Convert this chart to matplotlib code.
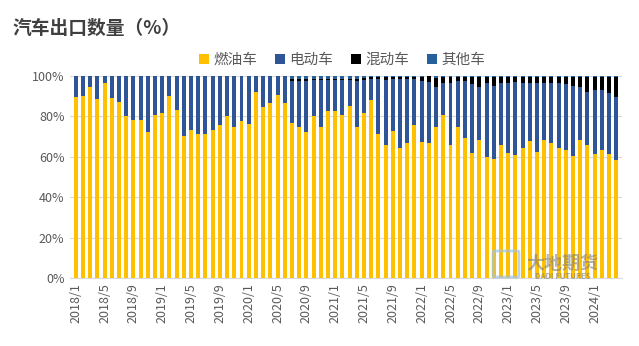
import matplotlib
matplotlib.use("Agg")
import matplotlib.pyplot as plt
from matplotlib.patches import FancyBboxPatch
import numpy as np

plt.rcParams['font.family'] = ['Noto Sans CJK SC', 'DejaVu Sans']

# monthly categories 2018/1 .. 2024/4
months = [f"{y}/{m}" for y in range(2018, 2025) for m in range(1, 13)][:76]

fuel = [89.4, 89.9, 94.4, 88.4, 96.7, 88.9, 87.1, 80.1, 78.3, 78.3, 72.4, 80.6,
        81.5, 90.2, 83.4, 70.5, 73.3, 71.5, 71.5, 73.3, 75.7, 80.1, 74.7, 77.5,
        76.0, 92.2, 84.8, 86.6, 90.7, 86.6, 76.8, 74.7, 72.4, 80.3, 75.0, 82.9,
        82.9, 80.8, 85.3, 74.7, 81.6, 88.1, 71.5, 65.7, 73.0, 64.6, 66.9, 75.7,
        67.4, 66.9, 74.7, 80.6, 65.6, 74.7, 69.5, 61.8, 68.2, 59.9, 59.1, 65.6,
        61.9, 60.9, 64.6, 67.9, 62.6, 68.2, 66.6, 64.6, 63.2, 60.6, 68.2, 65.6,
        61.6, 63.2, 61.6, 58.6]
electric = [10.6, 10.1, 5.6, 11.6, 3.3, 11.1, 12.9, 19.9, 21.7, 21.7, 27.6, 19.4,
            18.5, 9.8, 16.6, 29.5, 26.7, 28.5, 28.5, 26.7, 24.3, 19.9, 25.3, 22.5,
            24.0, 7.8, 15.2, 13.4, 9.3, 13.4, 20.8, 22.9, 25.1, 17.5, 23.1, 15.2,
            15.2, 17.2, 12.7, 23.0, 16.4, 10.3, 26.9, 32.5, 25.3, 34.1, 31.8, 22.7,
            30.0, 30.0, 19.7, 16.1, 30.8, 22.7, 28.2, 34.2, 26.2, 36.5, 35.9, 31.1,
            34.8, 36.1, 32.1, 28.8, 33.8, 28.2, 29.8, 31.8, 32.8, 34.4, 26.2, 26.5,
            31.4, 29.8, 29.8, 31.1]
hybrid = [0] * 30 + [0.7, 0.7, 0.8, 0.7, 0.4, 0.4, 0.4, 0.5, 0.5, 0.8, 0.8, 1.0,
                     1.0, 1.5, 1.4, 1.0, 1.0, 1.3, 2.3, 3.1, 4.8, 3.0, 3.3, 2.3,
                     2.0, 3.7, 5.3, 3.3, 4.7, 3.0, 3.0, 2.7, 3.0, 3.0, 3.3, 3.3,
                     3.3, 3.3, 3.7, 4.7, 5.3, 7.6, 6.7, 6.7, 8.3, 10.0]
other = [0] * 30 + [1.7, 1.7, 1.7, 1.5, 1.5, 1.5, 1.5, 1.5, 1.5, 1.5, 1.2, 0.6,
                    0.6, 0.3, 0.3, 0.3, 0.3, 0.3, 0.3, 0.0, 0.8, 0.3, 0.3, 0.3,
                    0.3, 0.3, 0.3, 0.3, 0.3, 0.3, 0.3, 0.3, 0.3, 0.3, 0.3, 0.3,
                    0.3, 0.3, 0.3, 0.3, 0.3, 0.3, 0.3, 0.3, 0.3, 0.3]

names = ["燃油车", "电动车", "混动车", "其他车"]
colors = ["#FFC000", "#2F5597", "#000000", "#26619C"]

fig = plt.figure(figsize=(6.39, 3.46), dpi=100)
ax = fig.add_axes([70 / 639, 68 / 346, 552 / 639, 202 / 346])

x = np.arange(len(months))
bottom = np.zeros(len(months))
for vals, name, c in zip([fuel, electric, hybrid, other], names, colors):
    ax.bar(x, vals, bottom=bottom, width=0.55, color=c, label=name, zorder=3)
    bottom += np.array(vals)

ax.set_xlim(-0.8, len(months) - 0.2)
ax.set_ylim(0, 100)
ax.set_yticks(range(0, 101, 20))
ax.set_yticklabels([f"{v}%" for v in range(0, 101, 20)], fontsize=9, color="#595959")
ax.set_xticks(x[::4])
ax.set_xticklabels(months[::4], rotation=90, fontsize=9, color="#595959")
ax.tick_params(length=0, pad=4)
ax.grid(axis="y", color="#D9D9D9", linewidth=0.8, zorder=0)
for s in ["top", "right", "left"]:
    ax.spines[s].set_visible(False)
ax.spines["bottom"].set_color("#D9D9D9")

fig.text(0.02, 0.918, "汽车出口数量（%）", fontsize=13.5, fontweight="bold",
         color="#404040", va="center")
fig.legend(loc="center", bbox_to_anchor=(0.535, 0.826), ncol=4, frameon=False,
           fontsize=10.5, handlelength=0.7, handleheight=0.7, handletextpad=0.3,
           columnspacing=1.2, labelcolor="#595959")

# watermark
logo = FancyBboxPatch((495 / 639, 70 / 346), 22 / 639, 24 / 346,
                      boxstyle="round,pad=0.003", transform=fig.transFigure,
                      facecolor="none", edgecolor="#9DC3E6", linewidth=2.0,
                      alpha=0.7, zorder=5)
fig.patches.append(logo)
fig.text(0.88, 0.24, "大地期货", fontsize=13, fontweight="bold", color="#7F7F7F",
         alpha=0.6, ha="center", va="center")
fig.text(0.88, 0.2, "DADI FUTURES", fontsize=5.5, fontweight="bold", color="#7F7F7F",
         alpha=0.6, ha="center", va="center")

fig.savefig("out.png", dpi=100)
